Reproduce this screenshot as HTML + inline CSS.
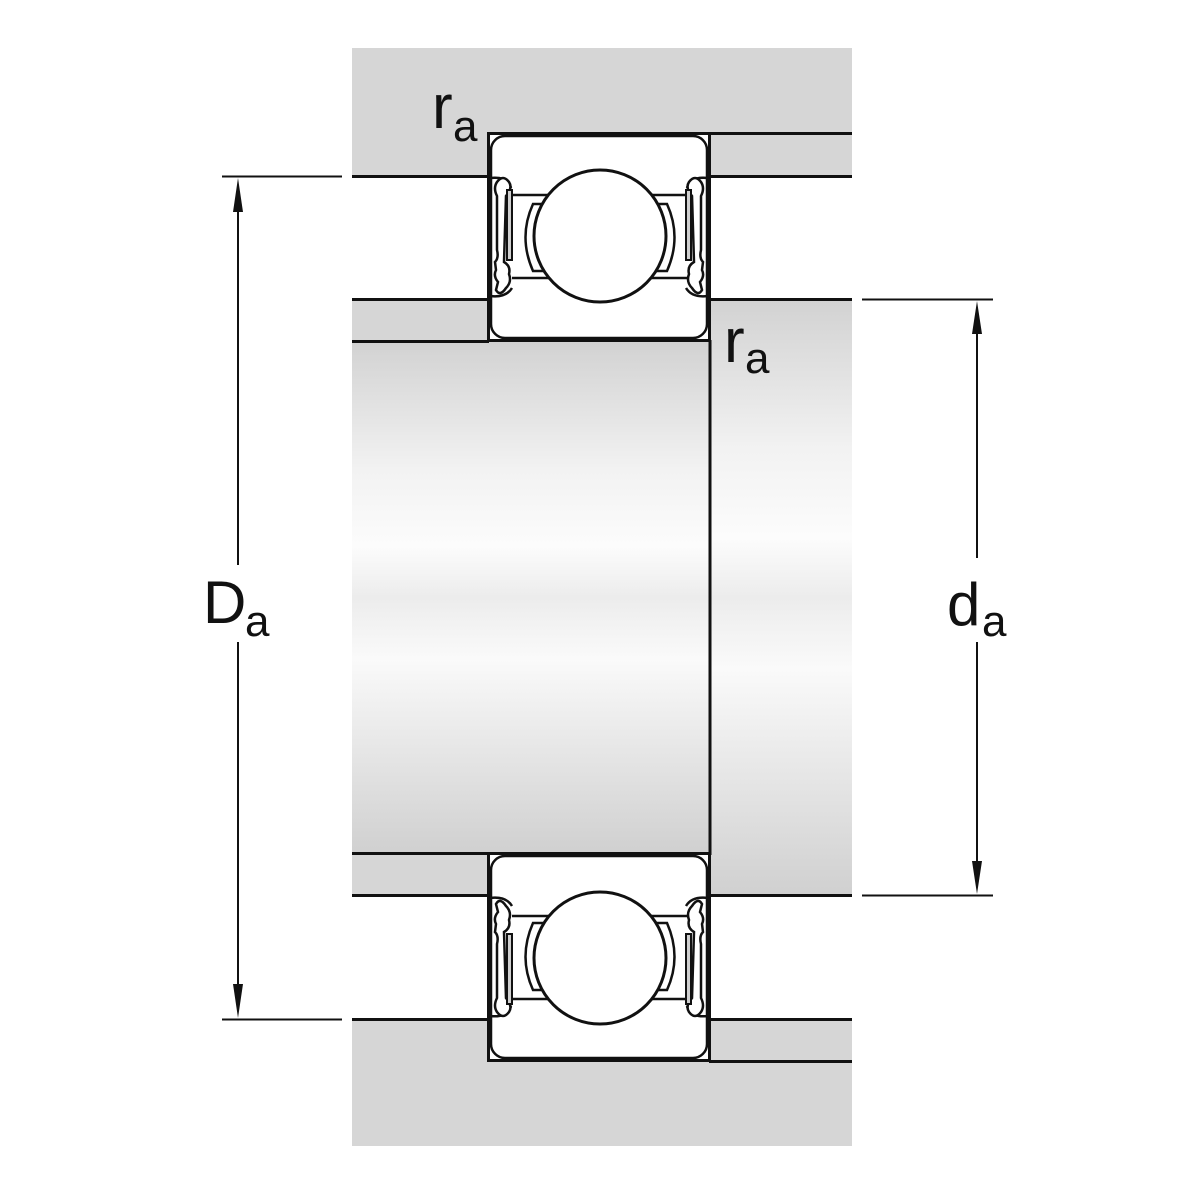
<!DOCTYPE html>
<html><head><meta charset="utf-8"><style>
html,body{margin:0;padding:0;background:#fff;}
svg{display:block}
text{font-family:"Liberation Sans",Arial,sans-serif;fill:#111}
</style></head><body>
<svg width="1200" height="1200" viewBox="0 0 1200 1200" xmlns="http://www.w3.org/2000/svg">
<defs>
<linearGradient id="sh" x1="0" y1="0" x2="0" y2="1">
<stop offset="0" stop-color="#d2d2d2"/>
<stop offset="0.25" stop-color="#f2f2f2"/>
<stop offset="0.4" stop-color="#fcfcfc"/>
<stop offset="0.5" stop-color="#ececec"/>
<stop offset="0.62" stop-color="#fafafa"/>
<stop offset="1" stop-color="#d0d0d0"/>
</linearGradient>
<g id="brg">
  <rect x="489" y="134" width="220" height="206" fill="#fff"/>
  <rect x="491" y="136" width="216" height="202" rx="14" fill="#fff" stroke="#111" stroke-width="2.5"/>
  <rect x="488.5" y="133.5" width="221" height="207" fill="none" stroke="#111" stroke-width="3"/>
  <path d="M512 195 L550 195 M512 278 L550 278 M650 195 L688 195 M650 278 L688 278" stroke="#111" stroke-width="2.5"/>
  <path d="M547 204 L533 204 Q518 237 533 271 L547 271 Q538 237 547 204 Z" fill="#fff" stroke="#111" stroke-width="2.5"/>
  <path d="M653 204 L667 204 Q682 237 667 271 L653 271 Q662 237 653 204 Z" fill="#fff" stroke="#111" stroke-width="2.5"/>
  <circle cx="600" cy="236" r="66" fill="#fff" stroke="#111" stroke-width="3"/>
  <g id="seal">
    <path d="M490 178 Q508 176 511 188" fill="none" stroke="#111" stroke-width="2.5"/>
    <path d="M490 296 Q506 298 512 288" fill="none" stroke="#111" stroke-width="2.5"/>
    <path d="M497 182 Q503 174 509 182 Q513 188 506 196 L504 262 Q511 266 509 274 Q512 282 506 288 Q500 297 496 290 L498 282 Q493 276 496 270 L495 262 Q499 258 497 250 L497 196 Q493 188 497 182 Z" fill="#fff" stroke="#111" stroke-width="2.5"/>
    <rect x="507" y="190" width="5" height="70" fill="#d0d0d0" stroke="#111" stroke-width="2"/>
  </g>
  <use href="#seal" transform="translate(1198,0) scale(-1,1)"/>
</g>
</defs>
<rect x="352" y="48" width="500" height="1098" fill="#d6d6d6"/>
<rect x="352" y="177" width="137" height="122" fill="#fff"/>
<rect x="709" y="177" width="143" height="122" fill="#fff"/>
<rect x="352" y="896" width="137" height="123" fill="#fff"/>
<rect x="709" y="896" width="143" height="123" fill="#fff"/>
<rect x="352" y="342" width="358" height="511" fill="url(#sh)"/>
<rect x="710" y="300" width="142" height="595" fill="url(#sh)"/>
<g stroke="#111" stroke-width="3" fill="none">
<path d="M709 133.5 H852"/>
<path d="M352 176.5 H489 M709 176.5 H852"/>
<path d="M352 299.5 H489 M709 299.5 H852"/>
<path d="M352 341.5 H489"/>
<path d="M710 340 V855"/>
<path d="M352 853.5 H489"/>
<path d="M352 895.5 H489 M709 895.5 H852"/>
<path d="M352 1019.5 H489 M709 1019.5 H852"/>
<path d="M709 1061.5 H852"/>
</g>
<use href="#brg"/>
<use href="#brg" transform="translate(0,1194) scale(1,-1)"/>
<g stroke="#111" stroke-width="2" fill="none">
<path d="M222 176.5 H342 M222 1019.5 H342"/>
<path d="M238 200 V565 M238 642 V995"/>
<path d="M862 299.5 H993 M862 895.5 H993"/>
<path d="M977 322 V558 M977 642 V872"/>
</g>
<g fill="#111">
<path d="M238 178 L233 212 L243 212 Z"/>
<path d="M238 1018 L233 984 L243 984 Z"/>
<path d="M977 301 L972 334 L982 334 Z"/>
<path d="M977 894 L972 861 L982 861 Z"/>
</g>
<text x="203" y="623" font-size="60">D</text>
<text x="245" y="636" font-size="44">a</text>
<text x="947" y="625" font-size="60">d</text>
<text x="982" y="636" font-size="44">a</text>
<text x="432" y="128" font-size="62">r</text>
<text x="453" y="141" font-size="44">a</text>
<text x="724" y="362" font-size="62">r</text>
<text x="745" y="373" font-size="44">a</text>
</svg>
</body></html>
